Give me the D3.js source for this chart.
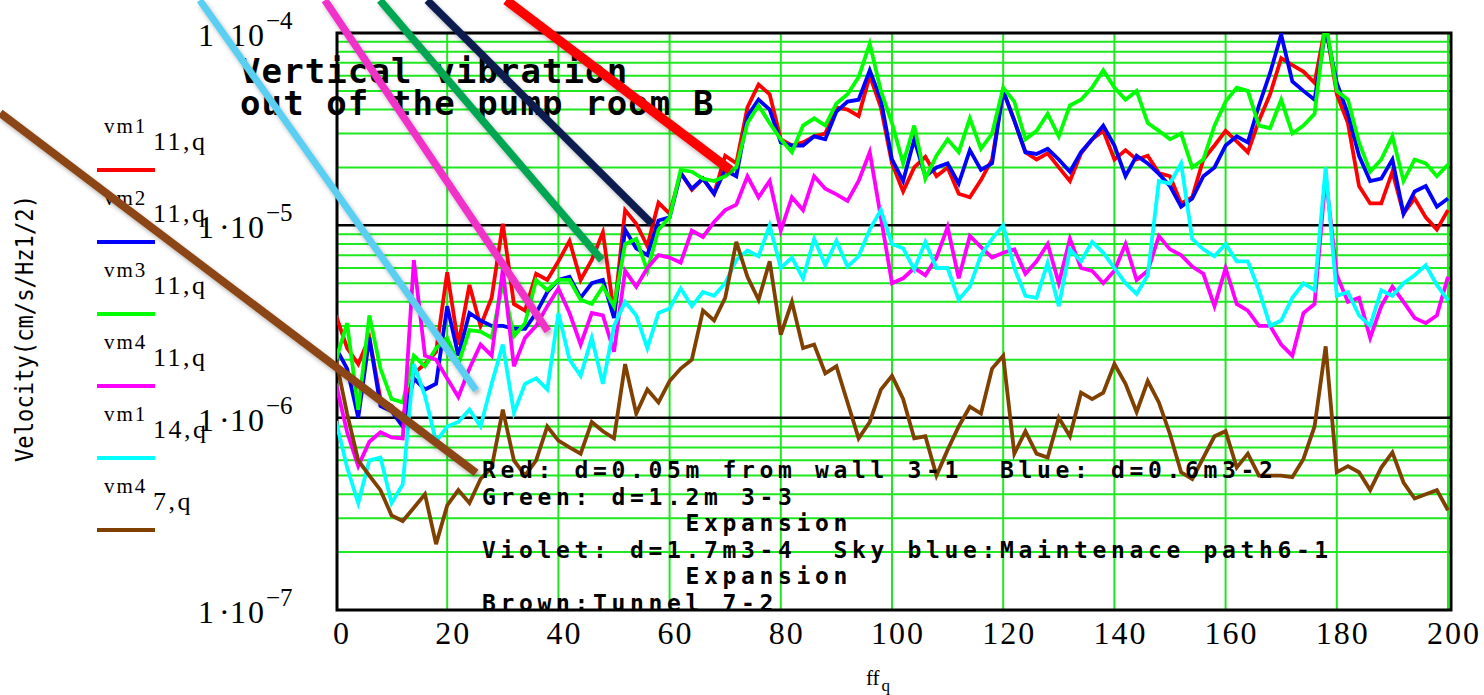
<!DOCTYPE html>
<html>
<head>
<meta charset="utf-8">
<title>Vertical vibration out of the pump room B</title>
<script src="https://cdn.jsdelivr.net/npm/d3@7"></script>
<style>
  html, body { margin: 0; padding: 0; background: #fff; }
  svg { display: block; }
  .gothic { font-family: "DejaVu Sans Mono", "Liberation Mono", monospace; }
  .serif { font-family: "Liberation Serif", "DejaVu Serif", serif; }
</style>
</head>
<body>
<div id="root"></div>
<script>
// frequency axis ff_q in Hz (one sample every 2 Hz)
const ff = d3.range(0, 201, 2)

// velocity spectra, in units of 1e-6 cm/s/Hz^1/2
const UNIT = 1e-6
const vm1_11 = [3.4, 2.3, 1.9, 2.6, 1.25, 1.15, 1.0, 1.7, 1.9, 2.2,
  5.7, 2.4, 4.9, 3.0, 4.2, 10.2, 3.9, 3.6, 5.6, 5.2,
  6.5, 8.3, 5.2, 6.6, 9.2, 3.5, 12, 10.2, 7.8, 13.1,
  11.5, 18.7, 15.3, 17.5, 14.6, 23, 21, 41, 54, 48,
  28, 26, 27, 29, 30, 41, 40, 37, 60, 41,
  21, 15, 20, 22.7, 18, 20, 14.6, 14, 17.2, 22,
  50, 35, 24, 22, 23.7, 20, 17, 23.7, 28, 31,
  22, 24.6, 22, 23, 18.7, 18, 13, 14, 22, 26,
  31, 27.3, 24, 35, 48, 74, 68, 63, 55, 110,
  48, 34, 16, 13, 13, 19, 11.5, 13.8, 11, 9.5, 12]
const vm2_11 = [2.3, 1.8, 1.0, 2.6, 1.15, 1.08, 0.9, 1.6, 1.4, 1.5,
  3.8, 2.1, 3.5, 3.2, 3.0, 3.0, 2.9, 2.9, 3.5, 4.5,
  5.2, 5.4, 4.2, 5.0, 5.2, 3.3, 9.5, 7.6, 7.0, 10.6,
  11.0, 18.7, 15.5, 17.5, 14.6, 19.4, 18, 37, 45, 40,
  27, 26, 26, 29, 28, 39, 44, 45, 64, 45,
  22, 17, 28, 18, 20, 21, 16.5, 24.6, 19.4, 21,
  50, 35, 24, 23.5, 25, 22, 19, 24, 28, 33,
  26, 18, 23, 21, 18.5, 16, 12.5, 13.8, 18, 20,
  26, 29, 27, 42, 62, 98, 56, 50, 45, 105,
  55, 38, 23, 17, 17.5, 22, 11.5, 15, 16, 12.5, 13.8]
const vm3_11 = [2.0, 3.1, 1.1, 3.4, 1.8, 1.25, 1.2, 2.1, 1.85, 2.3,
  2.6, 1.9, 2.85, 2.8, 2.6, 5.0, 2.65, 3.1, 5.2, 4.6,
  5.2, 5.2, 4.1, 3.9, 4.8, 3.8, 8.0, 8.5, 5.8, 9.5,
  11, 19.4, 19, 17.5, 17, 18, 20, 34, 42, 34,
  28, 24, 33, 36, 33, 43, 48, 59, 88, 50,
  34, 21, 33, 17.5, 23, 28, 24, 36, 25, 30,
  52, 44, 28, 31, 38, 29, 42, 45, 52, 64,
  52, 45, 50, 34, 31, 28, 30, 20, 22, 33,
  44, 52, 50, 33, 32, 45, 30, 33, 38, 115,
  50, 45, 27, 19, 22, 29, 17, 22, 21, 18, 20.7]
const vm4_11 = [1.5, 0.84, 0.56, 0.75, 0.84, 0.79, 0.78, 6.6, 2.1, 2.0,
  1.6, 1.28, 1.8, 2.4, 2.1, 5.9, 1.85, 2.6, 3.0, 3.8,
  4.7, 3.5, 2.4, 3.5, 3.4, 2.2, 5.8, 4.8, 6.0, 7.0,
  6.8, 6.4, 9.4, 8.7, 10.4, 12, 12.8, 18, 14, 17,
  9.4, 14, 12, 18, 15.5, 14.5, 13.4, 17, 24, 11,
  5.0, 5.3, 6.0, 5.5, 6.8, 9.8, 5.3, 8.8, 7.7, 6.8,
  7.2, 7.5, 5.6, 6.5, 8.0, 5.0, 8.5, 6.0, 5.8, 5.0,
  5.8, 8.0, 5.2, 5.8, 8.8, 7.5, 7.0, 6.1, 5.6, 3.8,
  6.0, 3.9, 3.6, 3.0, 3.0, 2.4, 2.1, 3.5, 3.9, 18,
  5.5, 4.0, 4.2, 2.6, 3.8, 4.8, 4.0, 3.3, 3.1, 3.4, 5.4]
const vm1_14 = [0.96, 0.55, 0.36, 0.6, 0.62, 0.36, 0.45, 1.9, 1.3, 0.75,
  0.9, 0.95, 1.1, 0.9, 1.5, 2.4, 1.06, 1.5, 1.6, 1.4,
  3.5, 2.0, 1.65, 2.6, 1.5, 3.0, 4.0, 3.4, 2.3, 3.5,
  3.7, 4.7, 3.8, 4.5, 4.3, 5.0, 6.6, 7.4, 6.9, 10,
  6.0, 6.8, 5.3, 8.5, 6.2, 8.3, 6.1, 6.9, 9.5, 12,
  8.0, 7.6, 5.9, 8.2, 6.0, 6.0, 4.1, 4.8, 7.0, 8.5,
  10, 6.0, 4.3, 4.2, 6.4, 3.8, 7.5, 6.5, 8.2, 7.2,
  6.0, 5.0, 4.4, 5.5, 17, 16.5, 21, 8.5, 7.5, 6.9,
  8.0, 6.5, 6.5, 4.6, 3.0, 3.2, 4.2, 5.0, 4.6, 20,
  4.3, 4.5, 3.4, 3.0, 4.6, 4.3, 5.0, 5.5, 6.2, 4.9, 4.07]
const vm4_7 = [2.0, 1.05, 0.6, 0.5, 0.42, 0.31, 0.29, 0.34, 0.4, 0.22,
  0.35, 0.42, 0.36, 0.48, 0.55, 1.1, 0.6, 0.5, 0.6, 0.9,
  0.76, 0.7, 0.65, 0.95, 0.85, 0.78, 1.9, 1.05, 1.4, 1.2,
  1.55, 1.8, 2.0, 3.6, 3.2, 4.2, 8.2, 5.4, 4.1, 6.5,
  2.7, 4.0, 2.3, 2.4, 1.7, 1.85, 1.2, 0.78, 0.95, 1.4,
  1.65, 1.25, 0.78, 0.8, 0.5, 0.68, 0.9, 1.14, 1.05, 1.8,
  2.1, 0.65, 0.85, 0.65, 0.62, 1.0, 0.8, 1.35, 1.25, 1.35,
  1.9, 1.5, 1.07, 1.55, 1.2, 0.82, 0.52, 0.48, 0.62, 0.8,
  0.85, 0.55, 0.65, 0.5, 0.5, 0.5, 0.49, 0.61, 0.9, 2.35,
  0.52, 0.56, 0.52, 0.42, 0.55, 0.66, 0.46, 0.38, 0.4, 0.42, 0.33]

// legend entries, drawn in this order (last on top)
const series = [
  { name: "vm1", sub: "11,q", values: vm1_11, color: "#ff0000" },
  { name: "vm2", sub: "11,q", values: vm2_11, color: "#0000ff" },
  { name: "vm3", sub: "11,q", values: vm3_11, color: "#00ff00" },
  { name: "vm4", sub: "11,q", values: vm4_11, color: "#ff00ff" },
  { name: "vm1", sub: "14,q", values: vm1_14, color: "#00ffff" },
  { name: "vm4", sub: "7,q", values: vm4_7, color: "#804000" }
]

const xTicks = [0, 20, 40, 60, 80, 100, 120, 140, 160, 180, 200]
const yDecades = [-4, -5, -6, -7]
const titleLines = ["Vertical vibration", "out of the pump room B"]
const noteLines = [
  { text: "Red: d=0.05m from wall 3-1  Blue: d=0.6m3-2", indent: 0 },
  { text: "Green: d=1.2m 3-3", indent: 0 },
  { text: "Expansion", indent: 11 },
  { text: "Violet: d=1.7m3-4  Sky blue:Maintenace path6-1", indent: 0 },
  { text: "Expansion", indent: 11 },
  { text: "Brown:Tunnel 7-2", indent: 0 }
]
// pointer strokes drawn over the chart, ends given in (Hz, cm/s/Hz^1/2)
const pointers = [
  { from: [-24.5, 1.48e-4], to: [25.2, 1.39e-6], color: "#5acff2", width: 7 },
  { from: [-2.0, 1.48e-4], to: [38.1, 2.82e-6], color: "#f032c8", width: 7.5 },
  { from: [7.9, 1.48e-4], to: [47.8, 6.6e-6], color: "#00a651", width: 7.5 },
  { from: [16.4, 1.48e-4], to: [56.8, 1.02e-5], color: "#0b1f4f", width: 7.5 },
  { from: [30.6, 1.48e-4], to: [70.9, 1.94e-5], color: "#ff0000", width: 9.5 },
  { from: [-60.4, 3.84e-5], to: [25.2, 5.16e-7], color: "#8b4512", width: 8 }
]

const W = 1484, H = 695
const gridGreen = "#1ee81e"

const svg = d3.select("#root").append("svg").attr("width", W).attr("height", H)
svg.append("rect").attr("width", W).attr("height", H).attr("fill", "#fff")

const x = d3.scaleLinear().domain([0, 200]).range([336, 1448])
const y = d3.scaleLog().domain([1e-7, 1e-4]).range([610, 33])
const plot = { left: 337, right: 1451, top: y(1e-4), bottom: y(1e-7) }

const defs = svg.append("defs")
defs.append("clipPath").attr("id", "plot-clip")
  .append("rect")
  .attr("x", plot.left).attr("y", plot.top)
  .attr("width", plot.right - plot.left).attr("height", plot.bottom - plot.top)
const shadow = defs.append("filter").attr("id", "shade")
  .attr("x", "-20%").attr("y", "-20%").attr("width", "140%").attr("height", "140%")
shadow.append("feDropShadow").attr("dx", 2).attr("dy", 3)
  .attr("stdDeviation", 2).attr("flood-color", "#000").attr("flood-opacity", 0.3)

// minor log grid
const minor = []
yDecades.slice(1).forEach(e => {
  for (let m = 2; m <= 9; m++) minor.push(m * Math.pow(10, e))
})
svg.append("g").selectAll("line").data(minor).join("line")
  .attr("x1", plot.left).attr("x2", plot.right)
  .attr("y1", d => y(d)).attr("y2", d => y(d))
  .attr("stroke", gridGreen).attr("stroke-width", 2)

svg.append("g").selectAll("line").data(xTicks.slice(1)).join("line")
  .attr("x1", d => x(d)).attr("x2", d => x(d))
  .attr("y1", plot.top).attr("y2", plot.bottom)
  .attr("stroke", gridGreen).attr("stroke-width", 2)

// decade lines
svg.append("g").selectAll("line").data([1e-5, 1e-6]).join("line")
  .attr("x1", plot.left).attr("x2", plot.right)
  .attr("y1", d => y(d)).attr("y2", d => y(d))
  .attr("stroke", "#000").attr("stroke-width", 2.5)

svg.append("rect")
  .attr("x", plot.left).attr("y", plot.top)
  .attr("width", plot.right - plot.left).attr("height", plot.bottom - plot.top)
  .attr("fill", "none").attr("stroke", "#000").attr("stroke-width", 3)

// spectra
const line = d3.line()
  .x((d, i) => x(ff[i]))
  .y(d => y(d * UNIT))
svg.append("g").attr("clip-path", "url(#plot-clip)")
  .selectAll("path").data(series).join("path")
  .attr("d", d => line(d.values))
  .attr("fill", "none")
  .attr("stroke", d => d.color)
  .attr("stroke-width", 3.8)
  .attr("stroke-linejoin", "miter")

// y tick labels  1·10^e
const yLab = svg.append("g").attr("class", "serif").attr("fill", "#000")
yDecades.forEach(e => {
  const ty = y(Math.pow(10, e))
  yLab.append("text").attr("x", 198).attr("y", ty + 13).attr("font-size", 32).text("1")
  yLab.append("text").attr("x", 219).attr("y", ty + 13).attr("font-size", 32).text("\u00b7")
  yLab.append("text").attr("x", 230).attr("y", ty + 13).attr("font-size", 32)
    .attr("letter-spacing", 2).text("10")
  yLab.append("text").attr("x", 266).attr("y", ty - 4).attr("font-size", 25).text("\u2212" + (-e))
})

// x tick labels
svg.append("g").attr("class", "serif").selectAll("text").data(xTicks).join("text")
  .attr("x", d => x(d) + 6).attr("y", 644)
  .attr("text-anchor", "middle").attr("font-size", 32).attr("letter-spacing", 2)
  .text(d => d)

// x axis name ff_q
const xName = svg.append("text").attr("class", "serif").attr("x", 866).attr("y", 685)
xName.append("tspan").attr("font-size", 21).text("ff")
xName.append("tspan").attr("font-size", 17).attr("dy", 6).attr("dx", 2).text("q")

// y axis name
svg.append("text").attr("class", "gothic")
  .attr("transform", "translate(33,462) rotate(-90)")
  .attr("font-size", 25)
  .attr("textLength", 267).attr("lengthAdjust", "spacingAndGlyphs")
  .text("Velocity(cm/s/Hz1/2)")

// legend
const legend = svg.append("g").attr("class", "serif")
series.forEach((s, i) => {
  const top = 72 * i
  legend.append("text").attr("x", 104).attr("y", 133 + top)
    .attr("font-size", 21).attr("letter-spacing", 2).text(s.name)
  legend.append("text").attr("x", 153).attr("y", 150 + top)
    .attr("font-size", 26).attr("letter-spacing", 2.5).text(s.sub)
  legend.append("line").attr("x1", 97).attr("x2", 155)
    .attr("y1", 170 + top).attr("y2", 170 + top)
    .attr("stroke", s.color).attr("stroke-width", 4)
})

// title and notes (double spaces kept with a no-break space)
const keepSpaces = t => t.replace(/  /g, " \u00a0")

svg.append("g").attr("class", "gothic").attr("font-weight", "bold")
  .selectAll("text").data(titleLines).join("text")
  .attr("x", 240).attr("y", (d, i) => 83 + i * 32)
  .attr("font-size", 34).attr("letter-spacing", 1.1)
  .text(d => d)

svg.append("g").attr("class", "gothic").attr("font-weight", "bold")
  .selectAll("text").data(noteLines).join("text")
  .attr("x", d => 482 + d.indent * 18.5)
  .attr("y", (d, i) => 478 + i * 26.6)
  .attr("font-size", 23).attr("letter-spacing", 4.65)
  .text(d => keepSpaces(d.text))

// pointer strokes on top of everything
svg.append("g").selectAll("line").data(pointers).join("line")
  .attr("x1", d => x(d.from[0])).attr("y1", d => y(d.from[1]))
  .attr("x2", d => x(d.to[0])).attr("y2", d => y(d.to[1]))
  .attr("stroke", d => d.color).attr("stroke-width", d => d.width)
  .attr("filter", "url(#shade)")
</script>
</body>
</html>
